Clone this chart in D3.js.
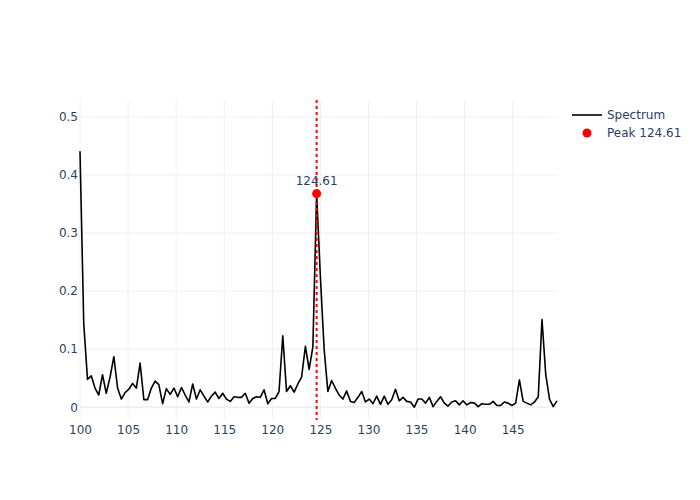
<!DOCTYPE html>
<html>
<head>
<meta charset="utf-8">
<script src="https://cdn.jsdelivr.net/npm/d3@7"></script>
<style>
    body { margin: 0; background: #fff; }
    svg text { font-family: "DejaVu Sans", verdana, arial, sans-serif; fill: #2a3f5f; }
</style>
</head>
<body>
<div id="chart"></div>
<script>
// Frequency bins (step 100/256) and the spectrum magnitude
var frequencies = [
    100.00, 100.39, 100.78, 101.17, 101.56, 101.95, 102.34, 102.73,
    103.13, 103.52, 103.91, 104.30, 104.69, 105.08, 105.47, 105.86,
    106.25, 106.64, 107.03, 107.42, 107.81, 108.20, 108.59, 108.98,
    109.38, 109.77, 110.16, 110.55, 110.94, 111.33, 111.72, 112.11,
    112.50, 112.89, 113.28, 113.67, 114.06, 114.45, 114.84, 115.23,
    115.63, 116.02, 116.41, 116.80, 117.19, 117.58, 117.97, 118.36,
    118.75, 119.14, 119.53, 119.92, 120.31, 120.70, 121.09, 121.48,
    121.88, 122.27, 122.66, 123.05, 123.44, 123.83, 124.22, 124.61,
    125.00, 125.39, 125.78, 126.17, 126.56, 126.95, 127.34, 127.73,
    128.13, 128.52, 128.91, 129.30, 129.69, 130.08, 130.47, 130.86,
    131.25, 131.64, 132.03, 132.42, 132.81, 133.20, 133.59, 133.98,
    134.38, 134.77, 135.16, 135.55, 135.94, 136.33, 136.72, 137.11,
    137.50, 137.89, 138.28, 138.67, 139.06, 139.45, 139.84, 140.23,
    140.63, 141.02, 141.41, 141.80, 142.19, 142.58, 142.97, 143.36,
    143.75, 144.14, 144.53, 144.92, 145.31, 145.70, 146.09, 146.48,
    146.88, 147.27, 147.66, 148.05, 148.44, 148.83, 149.22, 149.61
];
var magnitudes = [
    0.441, 0.144, 0.048, 0.054, 0.033, 0.021, 0.056, 0.024,
    0.052, 0.087, 0.033, 0.014, 0.025, 0.031, 0.041, 0.033,
    0.076, 0.013, 0.013, 0.033, 0.045, 0.039, 0.006, 0.032,
    0.022, 0.033, 0.018, 0.034, 0.021, 0.009, 0.040, 0.014,
    0.030, 0.019, 0.009, 0.019, 0.026, 0.015, 0.024, 0.014,
    0.010, 0.018, 0.017, 0.017, 0.024, 0.007, 0.015, 0.018,
    0.017, 0.030, 0.006, 0.015, 0.015, 0.027, 0.123, 0.027,
    0.037, 0.026, 0.040, 0.052, 0.105, 0.065, 0.104, 0.368,
    0.225, 0.100, 0.027, 0.046, 0.033, 0.021, 0.014, 0.028,
    0.010, 0.008, 0.017, 0.027, 0.009, 0.014, 0.006, 0.019,
    0.005, 0.019, 0.005, 0.013, 0.031, 0.011, 0.017, 0.010,
    0.009, 0.000, 0.014, 0.014, 0.007, 0.017, 0.001, 0.010,
    0.018, 0.007, 0.002, 0.009, 0.011, 0.004, 0.011, 0.004,
    0.008, 0.007, 0.001, 0.006, 0.005, 0.005, 0.010, 0.003,
    0.003, 0.009, 0.007, 0.003, 0.007, 0.047, 0.010, 0.007,
    0.004, 0.009, 0.018, 0.151, 0.056, 0.014, 0.001, 0.011
];
var peakFrequency = 124.61,
    peakMagnitude = 0.368;
var xTicks = [100, 105, 110, 115, 120, 125, 130, 135, 140, 145],
    yTicks = [0, 0.1, 0.2, 0.3, 0.4, 0.5];
var seriesNames = ["Spectrum", "Peak 124.61"];

var width = 700,
    height = 500,
    margin = { top: 100, right: 143, bottom: 80, left: 80 },
    plotWidth = width - margin.left - margin.right,
    plotHeight = height - margin.top - margin.bottom;

var points = frequencies.map(function (f, i) { return { x: f, y: magnitudes[i] }; });

var yMax = d3.max(magnitudes);
var x = d3.scaleLinear()
    .domain(d3.extent(frequencies))
    .range([0, plotWidth]);
var y = d3.scaleLinear()
    .domain([-0.05 * yMax, 1.2 * yMax])
    .range([plotHeight, 0]);

var svg = d3.select("#chart").append("svg")
    .attr("width", width)
    .attr("height", height);

var g = svg.append("g")
    .attr("transform", "translate(" + margin.left + "," + margin.top + ")");

// grid
g.append("g").attr("class", "x-grid")
    .selectAll("line")
    .data(xTicks)
    .enter().append("line")
    .attr("x1", function (d) { return x(d); })
    .attr("x2", function (d) { return x(d); })
    .attr("y1", 0)
    .attr("y2", plotHeight)
    .attr("stroke", "#ebf0f8")
    .attr("stroke-width", 1);

g.append("g").attr("class", "y-grid")
    .selectAll("line")
    .data(yTicks)
    .enter().append("line")
    .attr("x1", 0)
    .attr("x2", plotWidth)
    .attr("y1", function (d) { return y(d); })
    .attr("y2", function (d) { return y(d); })
    .attr("stroke", "#ebf0f8")
    .attr("stroke-width", function (d) { return d === 0 ? 2 : 1; });

// axes, labels only
var xAxis = g.append("g")
    .attr("transform", "translate(0," + plotHeight + ")")
    .call(d3.axisBottom(x).tickValues(xTicks).tickSize(0).tickPadding(5).tickFormat(d3.format("d")));
var yAxis = g.append("g")
    .call(d3.axisLeft(y).tickValues(yTicks).tickSize(0).tickPadding(2).tickFormat(function (d) { return d === 0 ? "0" : d3.format(".1f")(d); }));

[xAxis, yAxis].forEach(function (a) {
    a.select(".domain").remove();
    a.selectAll("text")
        .attr("fill", "#2a3f5f")
        .style("font-size", "12px");
});

// spectrum line
var line = d3.line()
    .x(function (d) { return x(d.x); })
    .y(function (d) { return y(d.y); });

g.append("path")
    .datum(points)
    .attr("fill", "none")
    .attr("stroke", "#000")
    .attr("stroke-width", 1.6)
    .attr("stroke-linejoin", "round")
    .attr("d", line);

// peak marker line
g.append("line")
    .attr("x1", x(peakFrequency))
    .attr("x2", x(peakFrequency))
    .attr("y1", 0)
    .attr("y2", plotHeight)
    .attr("stroke", "red")
    .attr("stroke-width", 2)
    .attr("stroke-dasharray", "3,3");

g.append("circle")
    .attr("cx", x(peakFrequency))
    .attr("cy", y(peakMagnitude))
    .attr("r", 4.5)
    .attr("fill", "red");

g.append("text")
    .attr("x", x(peakFrequency))
    .attr("y", y(peakMagnitude) - 9)
    .attr("text-anchor", "middle")
    .style("font-size", "12px")
    .text(d3.format(".2f")(peakFrequency));

// legend
var legend = svg.append("g")
    .attr("transform", "translate(" + (width - margin.right + 15) + "," + 115 + ")");

legend.append("line")
    .attr("x1", 0).attr("x2", 30)
    .attr("y1", 0).attr("y2", 0)
    .attr("stroke", "#000")
    .attr("stroke-width", 1.6);
legend.append("circle")
    .attr("cx", 15).attr("cy", 18)
    .attr("r", 4.5)
    .attr("fill", "red");

legend.selectAll("text")
    .data(seriesNames)
    .enter().append("text")
    .attr("x", 35)
    .attr("y", function (d, i) { return i * 18; })
    .attr("dy", "0.35em")
    .style("font-size", "12px")
    .text(function (d) { return d; });
</script>
</body>
</html>
